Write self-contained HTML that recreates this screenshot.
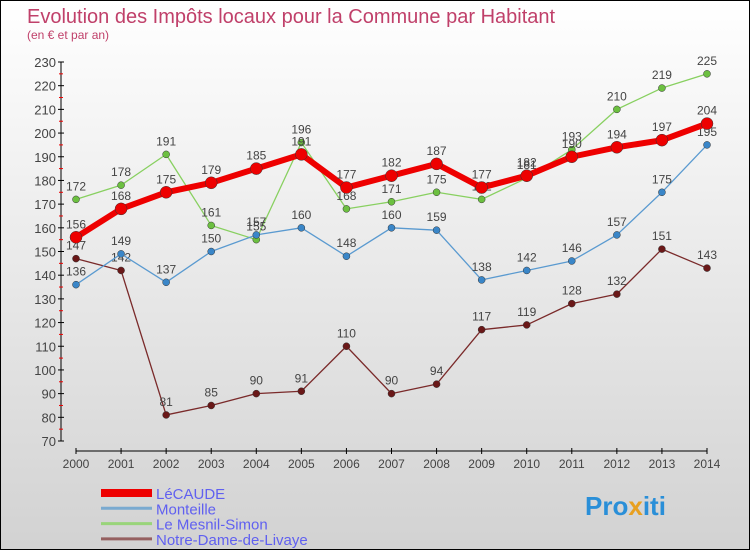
<!DOCTYPE html>
<html><head><meta charset="utf-8"><style>
body{margin:0}
#c{width:748px;height:548px;border:1px solid #000;background:linear-gradient(#ffffff,#d2d2d2);position:relative;font-family:"Liberation Sans",sans-serif}
</style></head><body>
<div id="c">
<svg id="s" width="748" height="548" xmlns="http://www.w3.org/2000/svg">
<text x="26" y="22" font-size="20" fill="#c0406a">Evolution des Impôts locaux pour la Commune par Habitant</text>
<text x="26" y="38" font-size="12" fill="#c0406a">(en € et par an)</text>
<g id="axes"></g><g id="series"></g><g id="legend"></g>
<text x="584" y="514" font-size="26" font-weight="bold" fill="#2a8fd8">Pro<tspan fill="#e8a020">x</tspan>iti</text>
</svg></div>
<script>
const years=[2000,2001,2002,2003,2004,2005,2006,2007,2008,2009,2010,2011,2012,2013,2014];
const yTicks=[70,80,90,100,110,120,130,140,150,160,170,180,190,200,210,220,230];
const seriesNames=["LéCAUDE","Monteille","Le Mesnil-Simon","Notre-Dame-de-Livaye"];
const lecaude=[156,168,175,179,185,191,177,182,187,177,182,190,194,197,204];
const monteille=[136,149,137,150,157,160,148,160,159,138,142,146,157,175,195];
const mesnil=[172,178,191,161,155,196,168,171,175,172,181,193,210,219,225];
const notreDame=[147,142,81,85,90,91,110,90,94,117,119,128,132,151,143];
const NS="http://www.w3.org/2000/svg";
function X(i){return 75+i*(706-75)/(years.length-1);}
function Y(v){return 440-(v-70)*(440-61)/160;}
function mk(tag,at,parent){const e=document.createElementNS(NS,tag);for(const k in at)e.setAttribute(k,at[k]);parent.appendChild(e);return e;}
const ax=document.getElementById('axes');
let l=mk('line',{x1:60,y1:61,x2:60,y2:440,stroke:'#000'},ax);


l=mk('line',{x1:75,y1:450,x2:706,y2:450,stroke:'#000'},ax);


yTicks.forEach((t,i)=>{
 mk('line',{x1:57,y1:Y(t),x2:63,y2:Y(t),stroke:'#000'},ax);
 if(i<yTicks.length-1)mk('line',{x1:58,y1:Y(t+5),x2:62,y2:Y(t+5),stroke:'#e00'},ax);
 const tx=mk('text',{x:55,y:Y(t)+5,'font-size':13,fill:'#444','text-anchor':'end'},ax);
 tx.textContent=t;
 
 
});
years.forEach((yr,i)=>{
 mk('line',{x1:X(i),y1:447,x2:X(i),y2:453,stroke:'#000'},ax);
 const tx=mk('text',{x:X(i),y:467,'font-size':12,fill:'#444','text-anchor':'middle'},ax);
 tx.textContent=yr;
 
 
});
const sg=document.getElementById('series');
const defs=[[notreDame,'#7a2a2a','#6a1818',1.3,3.5,'notre-dame-de-livaye'],[mesnil,'#88d060','#6cc040',1.3,3.5,'le-mesnil-simon'],[monteille,'#5a9ad0','#3a86c8',1.3,3.5,'monteille'],[lecaude,'#ee0000','#ee0000',6,6,'lecaude']];
defs.forEach(([d,c,dc,w,r,n])=>{
 const g=mk('g',{},sg);
 
 
 const p=mk('polyline',{points:d.map((v,i)=>X(i)+','+Y(v)).join(' '),fill:'none',stroke:c,'stroke-width':w,'stroke-linejoin':'round'},g);
 
 
 d.forEach((v,i)=>{
  const ci=mk('circle',{cx:X(i),cy:Y(v),r:r,fill:dc,stroke:'#333','stroke-width':0.5},g);
  
  
  const t=mk('text',{x:X(i),y:Y(v)-9,'font-size':12,fill:'#444','text-anchor':'middle'},g);
  t.textContent=v;
  
  
 });
});
const lg=document.getElementById('legend');
const lcol=['#ee0000','#7aaad0','#99d47a','#956060'];const lw=[8,3,3,3];
seriesNames.forEach((n,i)=>{
 const y=492+i*15.3;
 const g=mk('g',{},lg);
 
 
 mk('line',{x1:100,y1:y,x2:151,y2:y,stroke:lcol[i],'stroke-width':lw[i]},g);
 const t=mk('text',{x:155,y:y+6,'font-size':15,fill:'#6060f0'},g);
 t.textContent=n;
});
</script>
</body></html>
